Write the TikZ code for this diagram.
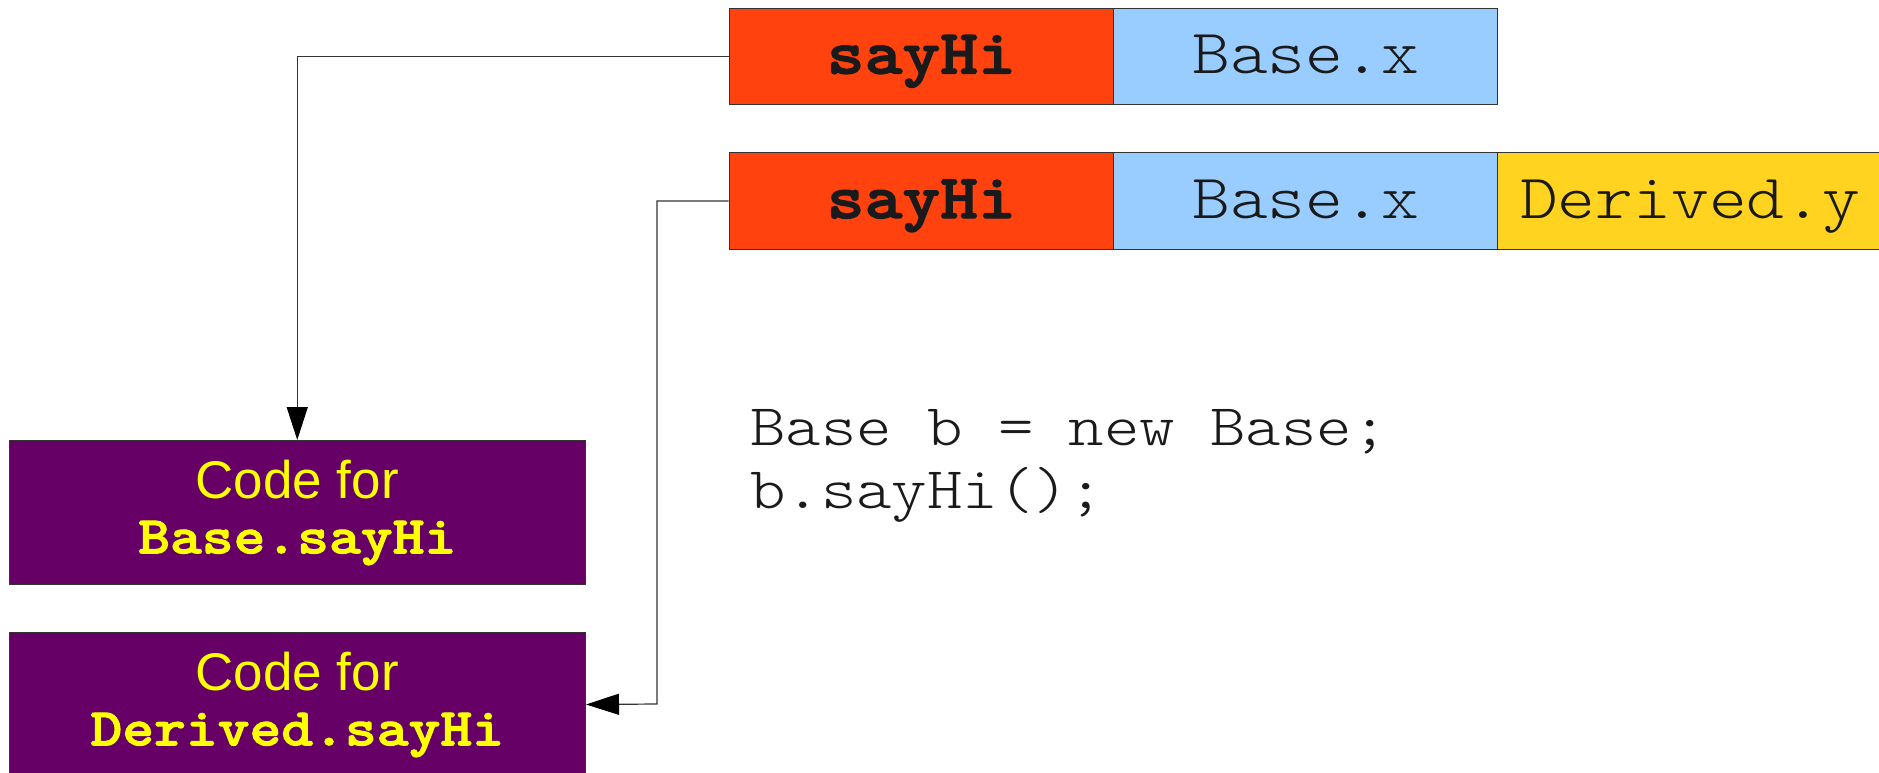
\documentclass[tikz,border=0pt]{standalone}
\usepackage{fontspec}
\setmainfont{Liberation Sans}
\setsansfont{Liberation Sans}
\newfontfamily\courfont{lmmonolt10-regular.otf}[BoldFont=lmmonolt10-bold.otf, BoldFeatures={FakeBold=2}, FakeStretch=1.1429]
\usetikzlibrary{arrows.meta}
\definecolor{cellred}{HTML}{FF420E}
\definecolor{cellblue}{HTML}{99CCFF}
\definecolor{cellyellow}{HTML}{FFD320}
\definecolor{codepurple}{HTML}{660066}
\definecolor{codeyellow}{HTML}{FFFF00}
\definecolor{linegray}{HTML}{333333}
\definecolor{inkdark}{HTML}{1A1A1A}
\begin{document}
\begin{tikzpicture}[x=1pt,y=-1pt,
  cell/.style={draw=linegray, line width=1pt, minimum width=384.4pt,
    minimum height=96.8pt, inner sep=0pt, anchor=north west, text=inkdark,
    font=\fontsize{63}{63}\selectfont\courfont, text height=47pt, text depth=12.6pt},
  boldcell/.style={cell, font=\fontsize{63}{63}\selectfont\courfont\bfseries},
  codebox/.style={draw=linegray, line width=1pt, fill=codepurple, text=codeyellow,
    minimum width=576.5pt, minimum height=144pt, inner sep=0pt, anchor=north west,
    align=center, font=\fontsize{53}{55}\selectfont},
  codeline/.style={anchor=base west, inner sep=0pt, text=inkdark,
    font=\fontsize{59}{64}\selectfont\courfont},
  conn/.style={draw=linegray, line width=1.2pt,
    -{Triangle[length=33pt,width=21pt,color=black]}}
]
\useasboundingbox (0,0) rectangle (1879,772);
\fill[white] (0,0) rectangle (1879,772);

% object rows
\node[boldcell, fill=cellred] (r1a) at (728.6,7.5) {sayHi};
\node[cell, fill=cellblue] (r1b) at (1113,7.5) {Base.x};

\node[boldcell, fill=cellred] (r2a) at (728.6,152) {sayHi};
\node[cell, fill=cellblue] (r2b) at (1113,152) {Base.x};
\node[cell, fill=cellyellow] (r2c) at (1497.4,152) {Derived.y};

% code boxes
\node[codebox] (cb1) at (8.5,440) {{\sffamily Code for}\\{\courfont\bfseries Base.sayHi}};
\node[codebox] (cb2) at (8.5,632) {{\sffamily Code for}\\{\courfont\bfseries Derived.sayHi}};

% code text
\node[codeline] (code1) at (750,445) {Base b = new Base;};
\node[codeline] (code2) at (750,508) {b.sayHi();};

% connectors
\draw[conn] (r1a.west) -| (cb1.north);
\coordinate (bend2) at (657,704);
\draw[conn] (r2a.west) -| (bend2) -- (cb2.east);
\end{tikzpicture}
\end{document}
